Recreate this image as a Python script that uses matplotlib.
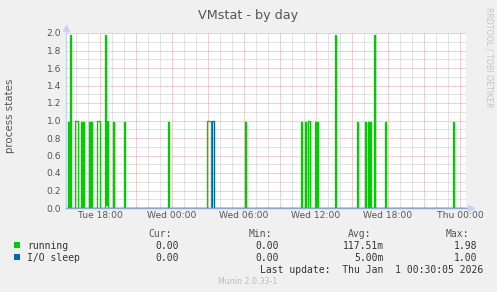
import numpy as np
import matplotlib
matplotlib.use("Agg")
import matplotlib.pyplot as plt
from matplotlib.patches import Rectangle
from matplotlib.ticker import MultipleLocator

# ---------------- data ----------------
title = "VMstat - by day"
ylabel = "process states"
x_tick_hours = [-6, 0, 6, 12, 18, 24]
x_tick_labels = ["Tue 18:00", "Wed 00:00", "Wed 06:00", "Wed 12:00", "Wed 18:00", "Thu 00:00"]
y_tick_values = [0.0, 0.2, 0.4, 0.6, 0.8, 1.0, 1.2, 1.4, 1.6, 1.8, 2.0]
y_tick_labels = ["0.0", "0.2", "0.4", "0.6", "0.8", "1.0", "1.2", "1.4", "1.6", "1.8", "2.0"]
series_names = ["running", "I/O sleep"]
series_colors = ["#00CC00", "#0066B3"]
start_time = "Tue 15:10"
end_time = "Thu 00:30"
step_minutes = 5

running_times = ["Tue 15:20", "Tue 15:30", "Tue 15:55", "Tue 16:00", "Tue 16:05",
                 "Tue 16:25", "Tue 16:35", "Tue 17:05", "Tue 17:15", "Tue 17:45",
                 "Tue 17:50", "Tue 17:55", "Tue 18:25", "Tue 18:30", "Tue 18:35",
                 "Tue 19:05", "Tue 20:00", "Tue 23:40", "Wed 02:55", "Wed 03:00",
                 "Wed 03:05", "Wed 03:10", "Wed 06:05", "Wed 10:45", "Wed 11:05",
                 "Wed 11:20", "Wed 11:25", "Wed 11:55", "Wed 12:05", "Wed 13:35",
                 "Wed 15:25", "Wed 16:05", "Wed 16:20", "Wed 16:30", "Wed 16:50",
                 "Wed 17:45", "Wed 23:25"]
running_values = [0.98, 1.98, 1.0, 1.0, 1.0,
                  0.98, 0.98, 0.98, 0.98, 1.0,
                  1.0, 1.0, 1.98, 0.04, 1.0,
                  0.98, 0.98, 0.98, 1.0, 1.0,
                  1.0, 1.0, 0.98, 0.98, 0.98,
                  1.0, 1.0, 0.98, 0.98, 1.98,
                  0.98, 0.98, 0.98, 0.98, 1.98,
                  0.98, 0.98]
io_times = ["Wed 03:20", "Wed 03:25"]
io_values = [1.0, 1.0]

legend_cur = ["0.00", "0.00"]
legend_min = ["0.00", "0.00"]
legend_avg = ["117.51m", "5.00m"]
legend_max = ["1.98", "1.00"]
last_update = "Last update:  Thu Jan  1 00:30:05 2026"
footer = "Munin 2.0.33-1"
watermark = "RRDTOOL / TOBI OETIKER"

# ---------------- helpers ----------------
DAY_OFFSET = {"Tue": -24.0, "Wed": 0.0, "Thu": 24.0}


def to_hours(s):
    d, hm = s.split()
    h, m = hm.split(":")
    return DAY_OFFSET[d] + int(h) + int(m) / 60.0


t_start = to_hours(start_time)
t_end = to_hours(end_time)
n = int(round((t_end - t_start) * 60 / step_minutes))
times = t_start + np.arange(n + 1) * step_minutes / 60.0


def build(ts, vs):
    arr = np.zeros(n + 1)
    for s, v in zip(ts, vs):
        idx = int(round((to_hours(s) - t_start) * 60 / step_minutes))
        arr[idx] = v
    return arr


running = build(running_times, running_values)
io_sleep = build(io_times, io_values)

# ---------------- figure ----------------
W, H = 497, 292
fig = plt.figure(figsize=(W / 100, H / 100), dpi=100, facecolor="#F0F0F0")

px_l, px_r, px_t, px_b = 66, 466, 33, 208
ax = fig.add_axes([px_l / W, 1 - px_b / H, (px_r - px_l) / W, (px_b - px_t) / H])
ax.set_facecolor("white")

ax.set_xlim(t_start, t_end)
ax.set_ylim(0, 2.0)

grey = "#555555"
# grid
ax.xaxis.set_minor_locator(MultipleLocator(1))
ax.yaxis.set_minor_locator(MultipleLocator(0.1))
major_pos = list(np.arange(-6, 25, 3))
ax.set_xticks(major_pos)
ax.set_xticklabels([x_tick_labels[x_tick_hours.index(p)] if p in x_tick_hours else "" for p in major_pos])
ax.set_yticks(y_tick_values)
ax.set_yticklabels(y_tick_labels)
ax.grid(which="minor", color="#C8C8C8", linestyle=(0, (1, 1)), linewidth=0.72)
ax.grid(which="major", color="#E3A0A0", linestyle=(0, (1, 1)), linewidth=0.72)
ax.set_axisbelow(True)

ax.tick_params(axis="both", which="both", length=0, colors=grey, labelsize=6.6)
ax.tick_params(axis="x", pad=2.5)
ax.tick_params(axis="y", pad=3.5)

for sp in ax.spines.values():
    sp.set_visible(False)

ax.step(times, running, where="post", color=series_colors[0], linewidth=0.95, zorder=3)
ax.step(times, io_sleep, where="post", color=series_colors[1], linewidth=0.95, zorder=4)

# axes lines and arrows
ax.plot([0, 0], [0, 1.03], transform=ax.transAxes, color="#C9D1F5", lw=1.0, clip_on=False, zorder=5)
ax.plot([0, 1.01], [0, 0], transform=ax.transAxes, color="#8AA6E0", lw=1.0, clip_on=False, zorder=5)
ax.plot([0], [1.03], transform=ax.transAxes, marker="^", ms=4, color="#C9D1F5", clip_on=False, zorder=6)
ax.plot([1.012], [0], transform=ax.transAxes, marker=">", ms=4, color="#C9D1F5", clip_on=False, zorder=6)


def ftext(x, y, s, **kw):
    fig.text(x / W, 1 - y / H, s, **kw)


ftext(248, 18.7, title, ha="center", va="baseline", fontsize=9.2, color=grey)
ftext(10, 115.5, ylabel, ha="center", va="center", rotation=90, fontsize=7.4, color=grey)
ftext(489, 57, watermark, ha="center", va="center", rotation=270, fontsize=5.7, color="#C4C4C4")

mono = "DejaVu Sans Mono"
ftext(172, 237.3, "Cur:", ha="right", va="baseline", fontsize=7, family=mono, color=grey)
ftext(272, 237.3, "Min:", ha="right", va="baseline", fontsize=7, family=mono, color=grey)
ftext(371, 237.3, "Avg:", ha="right", va="baseline", fontsize=7, family=mono, color=grey)
ftext(469, 237.3, "Max:", ha="right", va="baseline", fontsize=7, family=mono, color=grey)

row_y = [249, 260.7]
for k in range(2):
    y = row_y[k]
    fig.patches.append(Rectangle((14 / W, 1 - (y - 1) / H), 6 / W, 6 / H,
                                 transform=fig.transFigure, facecolor=series_colors[k],
                                 edgecolor="none"))
    ftext(27.3, y, series_names[k], ha="left", va="baseline", fontsize=7, family=mono, color="#333333")
    ftext(179, y, legend_cur[k], ha="right", va="baseline", fontsize=7, family=mono, color="#333333")
    ftext(279, y, legend_min[k], ha="right", va="baseline", fontsize=7, family=mono, color="#333333")
    ftext(384, y, legend_avg[k], ha="right", va="baseline", fontsize=7, family=mono, color="#333333")
    ftext(477, y, legend_max[k], ha="right", va="baseline", fontsize=7, family=mono, color="#333333")

ftext(483, 273.3, last_update, ha="right", va="baseline", fontsize=7, family=mono, color="#333333")
ftext(248, 284, footer, ha="center", va="baseline", fontsize=5.7, color="#BBBBBB")

fig.savefig("out.png", dpi=100, facecolor=fig.get_facecolor())
